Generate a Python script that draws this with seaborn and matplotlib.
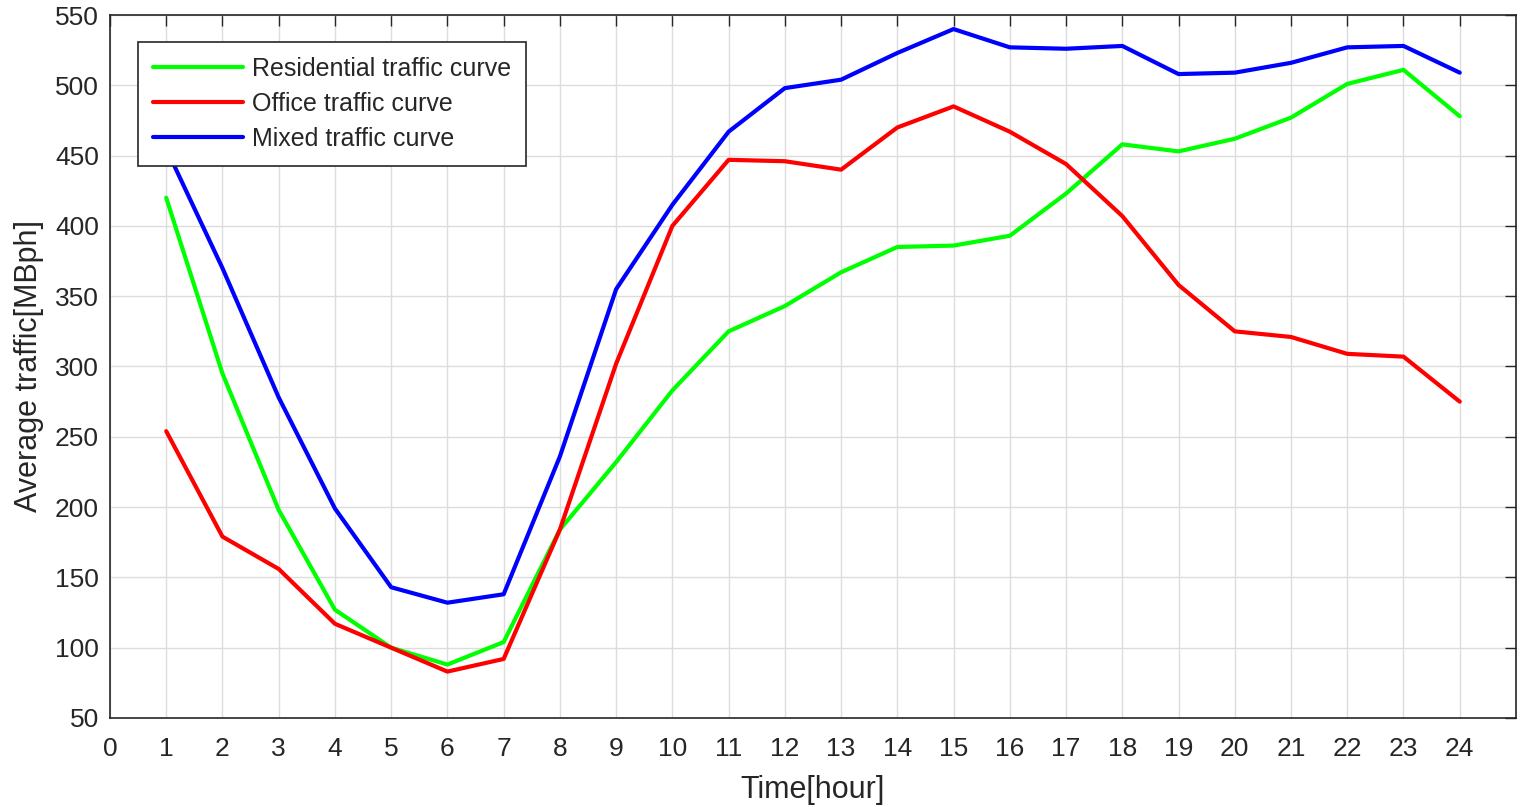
import seaborn as sns
import matplotlib
matplotlib.use("Agg")
import matplotlib.pyplot as plt
import pandas as pd

hours = list(range(1, 25))
residential = [420, 295, 198, 127, 100, 88, 104, 184, 232, 283, 325, 343,
               367, 385, 386, 393, 423, 458, 453, 462, 477, 501, 511, 478]
office = [254, 179, 156, 117, 100, 83, 92, 184, 302, 400, 447, 446,
          440, 470, 485, 467, 444, 407, 358, 325, 321, 309, 307, 275]
mixed = [455, 370, 278, 199, 143, 132, 138, 236, 355, 415, 467, 498,
         504, 523, 540, 527, 526, 528, 508, 509, 516, 527, 528, 509]

names = ["Residential traffic curve", "Office traffic curve", "Mixed traffic curve"]
colors = ["#00ff00", "#ff0000", "#0000ff"]

df = pd.DataFrame({
    "hour": hours * 3,
    "traffic": residential + office + mixed,
    "curve": [names[0]] * 24 + [names[1]] * 24 + [names[2]] * 24,
})

sns.set_style("white")
plt.rcParams["font.family"] = ["Liberation Sans", "DejaVu Sans"]

fig = plt.figure(figsize=(15.21, 8.07), dpi=100)
ax = fig.add_axes([0.0723, 0.1103, 0.9244, 0.8711])

sns.lineplot(data=df, x="hour", y="traffic", hue="curve", palette=colors,
             hue_order=names, linewidth=3, ax=ax)

ax.set_xlim(0, 25)
ax.set_ylim(50, 550)
ax.set_xticks(range(0, 25))
ax.set_yticks(range(50, 551, 50))
ax.grid(True, color="#dcdcdc", linewidth=1)
ax.tick_params(direction="in", length=8, width=1, colors="#262626",
               labelsize=19, top=True, right=True)
ax.tick_params(axis="x", pad=14)
ax.tick_params(axis="y", pad=8)
for s in ax.spines.values():
    s.set_color("#262626")
    s.set_linewidth(1.2)

ax.set_xlabel("Time[hour]", fontsize=22, color="#262626", labelpad=10)
ax.set_ylabel("Average traffic[MBph]", fontsize=22, color="#262626", labelpad=8)

leg = ax.legend(loc="upper left", bbox_to_anchor=(0.02, 0.962), fontsize=18,
                frameon=True, fancybox=False, edgecolor="#262626",
                framealpha=1, borderaxespad=0, handlelength=3.6,
                handletextpad=0.35, borderpad=0.6, labelspacing=0.45)
leg.get_frame().set_linewidth(1.2)
leg.set_zorder(5)
for t in leg.get_texts():
    t.set_color("#262626")

plt.savefig("out.png", dpi=100)
